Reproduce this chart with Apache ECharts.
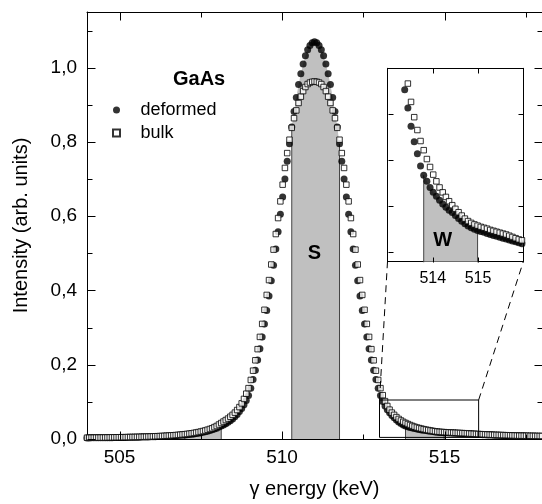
<!DOCTYPE html>
<html><head><meta charset="utf-8">
<script src="https://cdn.jsdelivr.net/npm/echarts@6/dist/echarts.min.js"></script>
<style>html,body{margin:0;padding:0;background:#fff}#c{width:542px;height:504px}</style>
</head><body><div id="c"></div>
<script>
// channel energies (keV)
const energy = [
504.00,504.07,504.14,504.21,504.28,504.35,504.42,504.49,504.56,504.63,
504.70,504.77,504.84,504.91,504.98,505.05,505.12,505.19,505.26,505.33,
505.40,505.47,505.54,505.61,505.68,505.75,505.82,505.89,505.96,506.03,
506.10,506.17,506.24,506.31,506.38,506.45,506.52,506.59,506.66,506.73,
506.80,506.87,506.94,507.01,507.08,507.15,507.22,507.29,507.36,507.43,
507.50,507.57,507.64,507.71,507.78,507.85,507.92,507.99,508.06,508.13,
508.20,508.27,508.34,508.41,508.48,508.55,508.62,508.69,508.76,508.83,
508.90,508.97,509.04,509.11,509.18,509.25,509.32,509.39,509.46,509.53,
509.60,509.67,509.74,509.81,509.88,509.95,510.02,510.09,510.16,510.23,
510.30,510.37,510.44,510.51,510.58,510.65,510.72,510.79,510.86,510.93,
511.00,511.07,511.14,511.21,511.28,511.35,511.42,511.49,511.56,511.63,
511.70,511.77,511.84,511.91,511.98,512.05,512.12,512.19,512.26,512.33,
512.40,512.47,512.54,512.61,512.68,512.75,512.82,512.89,512.96,513.03,
513.10,513.17,513.24,513.31,513.38,513.45,513.52,513.59,513.66,513.73,
513.80,513.87,513.94,514.01,514.08,514.15,514.22,514.29,514.36,514.43,
514.50,514.57,514.64,514.71,514.78,514.85,514.92,514.99,515.06,515.13,
515.20,515.27,515.34,515.41,515.48,515.55,515.62,515.69,515.76,515.83,
515.90,515.97,516.04,516.11,516.18,516.25,516.32,516.39,516.46,516.53,
516.60,516.67,516.74,516.81,516.88,516.95,517.02,517.09,517.16,517.23,
517.30,517.37,517.44,517.51,517.58,517.65,517.72,517.79,517.86,517.93,
518.00];
// GaAs deformed
const deformed = [
0.0030,0.0030,0.0031,0.0031,0.0032,0.0033,0.0033,0.0034,0.0035,0.0035,
0.0036,0.0037,0.0038,0.0039,0.0040,0.0041,0.0042,0.0043,0.0044,0.0045,
0.0046,0.0047,0.0048,0.0050,0.0051,0.0052,0.0054,0.0056,0.0058,0.0060,
0.0062,0.0064,0.0066,0.0069,0.0072,0.0075,0.0078,0.0081,0.0085,0.0089,
0.0093,0.0098,0.0103,0.0109,0.0115,0.0122,0.0130,0.0138,0.0147,0.0157,
0.0168,0.0180,0.0195,0.021,0.023,0.025,0.027,0.029,0.032,0.035,
0.038,0.041,0.045,0.049,0.054,0.060,0.066,0.074,0.082,0.092,
0.104,0.117,0.137,0.160,0.185,0.213,0.243,0.275,0.310,0.346,
0.385,0.426,0.468,0.512,0.558,0.605,0.652,0.700,0.748,0.795,
0.840,0.882,0.920,0.955,0.984,1.010,1.032,1.048,1.060,1.067,
1.070,
1.067,1.060,1.048,1.032,1.010,0.984,0.955,0.920,0.882,0.840,
0.795,0.748,0.700,0.652,0.605,0.558,0.512,0.468,0.426,0.385,
0.346,0.310,0.275,0.243,0.213,0.185,0.160,0.137,0.117,0.101,
0.089,0.079,0.071,0.063,0.057,0.051,0.046,0.042,0.038,0.035,
0.033,0.031,0.0294,0.0281,0.0268,0.0256,0.0245,0.0235,0.0228,0.0218,
0.0208,0.0199,0.0191,0.0184,0.0178,0.0173,0.0169,0.0166,0.0163,0.0159,
0.0156,0.0153,0.0150,0.0147,0.0144,0.0141,0.0138,0.0135,0.0132,0.0129,
0.0126,0.0123,0.0120,0.0117,0.0114,0.0111,0.0108,0.0105,0.0102,0.0100,
0.0098,0.0096,0.0094,0.0092,0.0090,0.0088,0.0086,0.0084,0.0082,0.0080,
0.0079,0.0078,0.0076,0.0075,0.0074,0.0072,0.0071,0.0070,0.0069,0.0068];
// GaAs bulk
const bulk = [
0.0035,0.0036,0.0036,0.0037,0.0038,0.0038,0.0039,0.0040,0.0041,0.0042,
0.0043,0.0044,0.0045,0.0046,0.0047,0.0048,0.0049,0.0050,0.0051,0.0052,
0.0054,0.0055,0.0057,0.0058,0.0060,0.0062,0.0064,0.0066,0.0068,0.0070,
0.0073,0.0076,0.0079,0.0082,0.0085,0.0089,0.0093,0.0097,0.0101,0.0106,
0.0111,0.0117,0.0123,0.0130,0.0137,0.0145,0.0154,0.0164,0.0175,0.0187,
0.020,0.0215,0.023,0.025,0.027,0.029,0.032,0.035,0.039,0.043,
0.047,0.051,0.055,0.060,0.065,0.071,0.078,0.086,0.096,0.108,
0.122,0.137,0.159,0.184,0.212,0.242,0.275,0.310,0.348,0.388,
0.428,0.470,0.510,0.552,0.595,0.640,0.685,0.730,0.770,0.806,
0.838,0.864,0.885,0.905,0.922,0.937,0.948,0.956,0.960,0.962,
0.963,
0.962,0.960,0.956,0.948,0.937,0.922,0.905,0.885,0.864,0.838,
0.806,0.770,0.730,0.685,0.640,0.595,0.552,0.510,0.470,0.428,
0.388,0.348,0.310,0.275,0.242,0.212,0.184,0.159,0.137,0.118,
0.102,0.089,0.079,0.071,0.065,0.059,0.054,0.0498,0.0462,0.0432,
0.0403,0.0377,0.0352,0.0330,0.0310,0.0294,0.0279,0.0265,0.0252,0.0240,
0.0229,0.0218,0.0208,0.0200,0.0194,0.0189,0.0185,0.0181,0.0178,0.0175,
0.0171,0.0168,0.0165,0.0162,0.0159,0.0156,0.0152,0.0148,0.0144,0.0140,
0.0137,0.0134,0.0131,0.0128,0.0125,0.0122,0.0119,0.0116,0.0113,0.0111,
0.0109,0.0107,0.0105,0.0103,0.0101,0.0099,0.0097,0.0095,0.0093,0.0091,
0.0090,0.0089,0.0088,0.0087,0.0086,0.0085,0.0084,0.0083,0.0082,0.0081];

const xTicks = [505, 510, 515];
const xMinorTicks = [507.5, 512.5, 517.5];
const yTicks = [0, 0.2, 0.4, 0.6, 0.8, 1.0];
const yMinorTicks = [0.1, 0.3, 0.5, 0.7, 0.9, 1.1];
const insetXTicks = [514, 515];
const insetYTicks = [0.01, 0.025, 0.04, 0.055];
const mainXRange = [504, 518];
const mainYRange = [0, 1.15];
const insetXRange = [513, 516];
const insetYRange = [0.0067, 0.07];
const sWindow = [510.30, 511.77];
const wWindowLeft = [507.01, 508.13];
const wWindowRight = [513.80, 514.99];
const zoomBox = [513, 516.05, 0.0043, 0.105];

const FONT = "'Liberation Sans', Arial, sans-serif";

function windowPts(win) {
  const pts = [];
  energy.forEach((x, i) => { if (x >= win[0] - 1e-9 && x <= win[1] + 1e-9) pts.push([x, deformed[i]]); });
  return pts;
}
function pairs(vals) { return energy.map((x, i) => [x, vals[i]]); }

function axis(gridIndex, pos, range, labels, extra) {
  return Object.assign({
    gridIndex, type: 'value', position: pos, min: range[0], max: range[1],
    axisLine: {show: true, onZero: false, lineStyle: {color: '#000', width: 1}},
    splitLine: {show: false},
    axisTick: {show: false},
    axisLabel: labels ? Object.assign({show: true, color: '#000', fontFamily: FONT}, labels) : {show: false}
  }, extra || {});
}

function seriesFor(xi, yi, wins) {
  const out = [];
  wins.forEach(w => {
    const pts = windowPts(w);
    out.push({type: 'line', xAxisIndex: xi, yAxisIndex: yi, data: pts, symbol: 'none', silent: true,
      lineStyle: {width: 0}, areaStyle: {color: '#c0c0c0', opacity: 1}, z: 1});
    const a = pts[0], b = pts[pts.length - 1];
    [a, b].forEach(p => out.push({type: 'line', xAxisIndex: xi, yAxisIndex: yi, symbol: 'none', silent: true,
      data: [[p[0], 0], [p[0], p[1]]], lineStyle: {color: '#444', width: 1}, z: 2}));
  });
  out.push({name: 'deformed', type: 'scatter', xAxisIndex: xi, yAxisIndex: yi, data: pairs(deformed),
    symbol: 'circle', symbolSize: 7, itemStyle: {color: '#000'}, z: 3});
  out.push({name: 'bulk', type: 'scatter', xAxisIndex: xi, yAxisIndex: yi, data: pairs(bulk),
    symbol: 'rect', symbolSize: 5.5, itemStyle: {color: '#fff', borderColor: '#000', borderWidth: 1}, z: 4});
  return out;
}

const series = [].concat(
  seriesFor(0, 0, [wWindowLeft, sWindow, wWindowRight]),
  [{type: 'line', xAxisIndex: 0, yAxisIndex: 0, symbol: 'none', silent: true, z: 5,
    data: [[zoomBox[0], zoomBox[2]], [zoomBox[1], zoomBox[2]], [zoomBox[1], zoomBox[3]], [zoomBox[0], zoomBox[3]], [zoomBox[0], zoomBox[2]]],
    lineStyle: {color: '#000', width: 1}}],
  seriesFor(2, 2, [wWindowRight])
);

const option = {
  animation: false,
  backgroundColor: '#fff',
  textStyle: {fontFamily: FONT},
  title: {text: 'GaAs', left: 173, top: 69, padding: 0,
    textStyle: {fontSize: 20, fontWeight: 'bold', color: '#000', fontFamily: FONT}},
  legend: {data: [{name: 'deformed', icon: 'circle'}, {name: 'bulk', icon: 'path://M0,0L10,0L10,10L0,10Z'}],
    orient: 'vertical', left: 112, top: 101, padding: 0, itemWidth: 38, itemHeight: 7, itemGap: 5,
    symbolKeepAspect: true,
    selectedMode: false, textStyle: {fontSize: 18, color: '#000', fontFamily: FONT}},
  grid: [
    {left: 87, right: -2, top: 12, bottom: 64},
    {left: 387.5, top: 68.3, width: 135.8, height: 193.4}
  ],
  xAxis: [
    axis(0, 'bottom', mainXRange, {fontSize: 19, margin: 9, customValues: xTicks},
      {name: 'γ energy (keV)', nameLocation: 'middle', nameGap: 40, nameTextStyle: {fontSize: 20, color: '#000', fontFamily: FONT}}),
    axis(0, 'top', mainXRange, null),
    axis(1, 'bottom', insetXRange, {fontSize: 16, margin: 9, customValues: insetXTicks}),
    axis(1, 'top', insetXRange, null)
  ],
  yAxis: [
    axis(0, 'left', mainYRange, {fontSize: 19, margin: 10, customValues: yTicks, formatter: v => v.toFixed(1).replace('.', ',')},
      {name: 'Intensity (arb. units)', nameLocation: 'middle', nameGap: 56, nameTextStyle: {fontSize: 20, color: '#000', fontFamily: FONT}}),
    axis(0, 'right', mainYRange, null),
    axis(1, 'left', insetYRange, null),
    axis(1, 'right', insetYRange, null)
  ],
  series
};
const chart = echarts.init(document.getElementById('c'), null, {renderer: 'canvas'});
chart.setOption(option);

// inward tick marks on all four sides of each frame, placed through each grid's own scales
function tickGraphics(ai, xr, yr, xMaj, xMin, yMaj, yMin, majLen, minLen) {
  const finder = {xAxisIndex: ai, yAxisIndex: ai};
  const lb = chart.convertToPixel(finder, [xr[0], yr[0]]);
  const rt = chart.convertToPixel(finder, [xr[1], yr[1]]);
  const pl = Math.round(lb[0]) + 0.5, pb = Math.round(lb[1]) + 0.5;
  const pr = Math.round(rt[0]) + 0.5, pt = Math.round(rt[1]) + 0.5;
  const style = {stroke: '#000', lineWidth: 1};
  const out = [];
  const addX = (v, len) => {
    const x = Math.round(chart.convertToPixel(finder, [v, yr[0]])[0]) + 0.5;
    out.push({type: 'line', silent: true, z: 100, shape: {x1: x, y1: pb, x2: x, y2: pb - len}, style});
    out.push({type: 'line', silent: true, z: 100, shape: {x1: x, y1: pt, x2: x, y2: pt + len}, style});
  };
  const addY = (v, len) => {
    const y = Math.round(chart.convertToPixel(finder, [xr[0], v])[1]) + 0.5;
    out.push({type: 'line', silent: true, z: 100, shape: {x1: pl, y1: y, x2: pl + len, y2: y}, style});
    out.push({type: 'line', silent: true, z: 100, shape: {x1: pr, y1: y, x2: pr - len, y2: y}, style});
  };
  xMaj.forEach(v => addX(v, majLen)); xMin.forEach(v => addX(v, minLen));
  yMaj.forEach(v => addY(v, majLen)); yMin.forEach(v => addY(v, minLen));
  return out;
}

// annotations: dashed zoom connectors and region labels, positioned through the axes' own scales
const m = p => chart.convertToPixel({xAxisIndex: 0, yAxisIndex: 0}, p);
const n = p => chart.convertToPixel({xAxisIndex: 2, yAxisIndex: 2}, p);
const tl = m([zoomBox[0], zoomBox[3]]), tr = m([zoomBox[1], zoomBox[3]]);
const bl = n([insetXRange[0], insetYRange[0]]), br = n([insetXRange[1], insetYRange[0]]);
const sPos = m([511.0, 0.50]);
const wPos = n([514.22, 0.0138]);
const graphics = [].concat(
  tickGraphics(0, mainXRange, mainYRange, xTicks, xMinorTicks, yTicks, yMinorTicks, 8, 5),
  tickGraphics(2, insetXRange, insetYRange, insetXTicks, [], insetYTicks, [], 5, 5),
  [
    {type: 'line', shape: {x1: tl[0], y1: tl[1], x2: bl[0], y2: bl[1]}, style: {stroke: '#000', lineWidth: 1, lineDash: [7, 5]}, z: 10},
    {type: 'line', shape: {x1: tr[0], y1: tr[1], x2: br[0], y2: br[1]}, style: {stroke: '#000', lineWidth: 1, lineDash: [7, 5]}, z: 10},
    {type: 'text', x: sPos[0], y: sPos[1], style: {text: 'S', font: 'bold 20px ' + FONT, fill: '#000', align: 'center', verticalAlign: 'middle'}, z: 10},
    {type: 'text', x: wPos[0], y: wPos[1], style: {text: 'W', font: 'bold 20px ' + FONT, fill: '#000', align: 'center', verticalAlign: 'middle'}, z: 10}
  ]
);
chart.setOption({graphic: graphics});
</script>
</body></html>
